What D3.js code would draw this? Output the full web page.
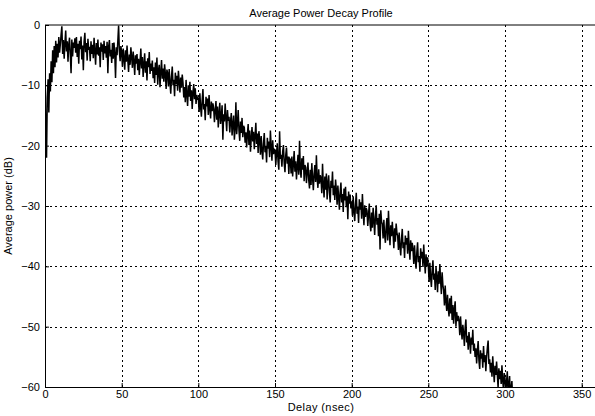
<!DOCTYPE html>
<html>
<head>
<meta charset="utf-8">
<script src="https://cdn.jsdelivr.net/npm/d3@7"></script>
<style>
  html, body { margin: 0; padding: 0; background: #fff; }
  svg { display: block; }
  text { font-family: Arial, "Liberation Sans", sans-serif; fill: #000; }
  .grid line { stroke: #000; stroke-width: 1; stroke-dasharray: 2,3; }
  .axis path, .axis line { stroke: #000; }
  .axis text { font-size: 11px; }
</style>
</head>
<body>
<div id="chart"></div>
<script>
// sample spacing of the measured profile (nsec)
const delayStep = 0.5;

// average power (dB), one value per 0.5 ns
const powerDb = [
  -7.0,-17.5,-22.0,-12.0,-9.0,-14.5,-8.0,-11.0,-6.0,-9.5,-4.2,-8.0,-3.5,-7.0,-2.6,-6.2,-3.1,-5.4,-2.0,-4.6,
  -3.2,-1.6,-0.2,-4.8,-2.5,-5.6,-3.0,-0.9,-4.4,-2.7,-6.1,-3.3,-2.1,-4.9,-8.0,-2.4,-5.2,-2.9,-3.8,-2.2,
  -4.6,-2.0,-5.3,-3.1,-6.4,-2.6,-4.0,-1.9,-5.7,-3.4,-7.5,-2.8,-1.3,-4.5,-3.0,-5.9,-2.3,-4.1,-3.6,-6.0,
  -2.7,-4.8,-3.3,-5.5,-2.1,-4.3,-6.6,-3.0,-4.9,-2.4,-5.1,-3.7,-7.0,-2.9,-4.4,-3.2,-5.8,-2.6,-4.7,-3.5,
  -5.4,-2.8,-8.0,-3.6,-2.5,-5.2,-4.1,-6.3,-3.0,-5.6,-2.9,-4.8,-8.8,-3.7,-5.0,-2.6,-0.1,-4.4,-6.0,-3.5,
  -4.6,-6.9,-3.9,-5.5,-7.4,-4.2,-6.1,-3.4,-5.8,-7.8,-4.9,-6.6,-3.7,-5.3,-7.1,-4.4,-6.0,-8.3,-5.0,-6.4,
  -4.8,-7.5,-5.6,-8.3,-6.1,-3.9,-7.2,-5.3,-8.6,-6.5,-4.7,-7.9,-6.0,-9.2,-5.5,-7.0,-4.5,-8.1,-6.4,-7.6,
  -5.9,-8.8,-7.0,-9.6,-6.2,-8.3,-5.4,-9.9,-7.5,-6.6,-10.3,-7.8,-5.8,-8.9,-7.2,-9.4,-6.5,-8.1,-10.6,-7.4,
  -8.0,-10.2,-7.3,-9.5,-11.4,-8.6,-6.9,-10.0,-9.1,-11.8,-7.9,-9.8,-8.4,-10.9,-7.6,-9.3,-11.2,-8.7,-10.4,-8.2,
  -9.6,-12.0,-10.3,-12.8,-9.1,-11.5,-13.4,-10.0,-11.9,-9.4,-12.6,-10.8,-13.9,-11.2,-9.8,-12.3,-10.5,-13.1,-11.6,-12.4,
  -12.0,-14.4,-11.3,-13.7,-15.2,-12.5,-10.6,-14.0,-13.1,-15.8,-11.9,-13.5,-12.2,-14.9,-11.6,-13.9,-15.5,-12.7,-14.3,-13.0,
  -13.8,-16.1,-14.2,-12.6,-15.7,-13.5,-17.0,-14.6,-12.9,-16.4,-15.1,-13.3,-19.0,-14.8,-16.0,-13.0,-15.4,-17.6,-14.1,-15.9,
  -15.2,-17.8,-16.0,-14.6,-18.3,-16.5,-15.0,-19.0,-17.2,-12.8,-18.1,-16.3,-14.1,-17.5,-19.2,-16.0,-17.9,-15.4,-18.6,-16.7,
  -17.0,-19.5,-17.8,-20.3,-18.1,-16.4,-19.9,-17.5,-21.0,-18.8,-16.9,-19.3,-17.7,-20.6,-18.4,-16.2,-19.7,-18.0,-21.2,-17.6,
  -19.0,-21.5,-18.4,-20.8,-22.3,-19.6,-17.9,-21.1,-20.0,-22.8,-18.7,-20.5,-19.3,-21.9,-17.5,-20.2,-22.5,-19.1,-21.4,-20.6,
  -20.7,-23.2,-21.3,-19.6,-22.6,-24.0,-17.6,-22.2,-21.5,-23.5,-21.0,-19.9,-22.9,-24.4,-21.6,-20.3,-23.0,-21.8,-24.7,-22.1,
  -22.3,-24.6,-21.8,-25.1,-23.0,-20.9,-24.3,-22.6,-25.6,-23.4,-21.5,-24.8,-19.2,-23.8,-25.3,-22.1,-24.0,-21.7,-25.9,-23.2,
  -23.6,-26.2,-24.4,-22.8,-25.7,-27.1,-24.0,-26.5,-22.9,-25.3,-27.4,-24.7,-23.2,-26.0,-21.6,-25.5,-27.0,-23.9,-26.3,-24.9,
  -25.4,-27.9,-23.0,-26.5,-28.6,-25.1,-27.3,-24.6,-28.9,-26.2,-24.9,-27.7,-29.4,-25.8,-27.0,-24.3,-28.2,-26.6,-29.0,-25.6,
  -27.3,-29.8,-26.6,-28.5,-30.6,-27.7,-26.1,-29.4,-28.0,-31.0,-27.1,-29.1,-26.8,-30.2,-28.4,-32.2,-27.6,-29.6,-28.1,-30.4,
  -29.2,-31.6,-28.4,-30.9,-32.5,-29.7,-27.8,-31.3,-30.1,-32.8,-28.9,-30.6,-29.4,-32.1,-28.0,-31.0,-33.2,-29.9,-31.8,-30.3,
  -30.8,-33.3,-31.5,-29.6,-32.9,-34.2,-31.1,-33.6,-30.3,-32.4,-34.8,-31.7,-29.9,-33.1,-32.0,-35.0,-31.3,-37.2,-30.7,-32.6,
  -33.0,-35.4,-32.3,-34.8,-36.1,-33.5,-32.0,-35.7,-30.8,-34.1,-36.5,-33.2,-35.0,-32.6,-34.6,-37.0,-33.7,-35.9,-32.9,-34.4,
  -35.0,-37.3,-34.4,-36.7,-38.2,-35.5,-33.8,-37.0,-36.0,-38.6,-34.9,-36.4,-35.3,-37.9,-34.1,-36.9,-38.9,-35.7,-37.5,-36.1,
  -37.2,-39.6,-36.5,-38.9,-40.4,-37.7,-36.0,-39.3,-38.3,-40.9,-37.0,-38.7,-37.6,-40.1,-36.4,-39.0,-41.2,-38.0,-40.0,-38.5,
  -40.0,-42.6,-39.4,-41.9,-43.4,-40.6,-39.0,-42.2,-41.2,-43.9,-40.1,-41.8,-44.3,-40.8,-42.9,-39.6,-42.4,-44.6,-41.0,-43.1,
  -44.0,-46.5,-43.2,-45.8,-47.4,-44.7,-46.9,-48.3,-45.3,-47.8,-44.9,-48.9,-46.4,-49.5,-47.1,-45.8,-50.0,-47.6,-49.1,-48.2,
  -49.0,-51.4,-48.3,-50.6,-52.1,-49.7,-51.0,-53.2,-50.2,-48.8,-52.6,-51.5,-53.8,-50.9,-52.3,-54.5,-51.8,-53.0,-50.5,-54.0,
  -52.8,-55.0,-53.6,-56.1,-54.0,-52.4,-55.6,-57.0,-53.9,-55.3,-54.4,-56.8,-53.2,-55.9,-54.7,-57.4,-55.1,-53.5,-52.3,-56.2,
  -55.4,-57.6,-56.0,-58.3,-54.9,-57.1,-59.2,-56.5,-58.0,-55.8,-57.9,-60.1,-56.9,-58.7,-57.3,-59.5,-56.4,-58.9,-60.4,-57.7,
  -58.6,-60.8,-59.2,-57.4,-61.0,-59.6,-58.2,-61.5,-60.2,-59.0,-62.0,-60.6
];

const xTicks = [0, 50, 100, 150, 200, 250, 300, 350];
const yTicks = [0, -10, -20, -30, -40, -50, -60];
const xDomain = [0, 360];
const yDomain = [-60, 0];

const width = 595, height = 416;
const margin = {top: 25, right: -2, bottom: 29, left: 45};

const svg = d3.select('#chart').append('svg')
    .attr('width', width)
    .attr('height', height);

const x = d3.scaleLinear().domain(xDomain).range([margin.left, width - margin.right]);
const y = d3.scaleLinear().domain(yDomain).range([height - margin.bottom, margin.top]);

// grid
const grid = svg.append('g').attr('class', 'grid');
grid.selectAll('line.v')
    .data(xTicks.filter(d => d > 0))
    .enter().append('line')
    .attr('class', 'v')
    .attr('x1', d => Math.round(x(d)) + 0.5).attr('x2', d => Math.round(x(d)) + 0.5)
    .attr('y1', y(0)).attr('y2', y(-60));
grid.selectAll('line.h')
    .data(yTicks.filter(d => d > -60 && d < 0))
    .enter().append('line')
    .attr('class', 'h')
    .attr('y1', d => Math.round(y(d)) + 0.5).attr('y2', d => Math.round(y(d)) + 0.5)
    .attr('x1', x(0)).attr('x2', x(360));

// clip to the axes box
svg.append('clipPath').attr('id', 'plotclip')
  .append('rect')
    .attr('x', x(0)).attr('y', y(0))
    .attr('width', x(360) - x(0)).attr('height', y(-60) - y(0));

const line = d3.line()
    .x((d, i) => x(i * delayStep))
    .y(d => y(d));

svg.append('path')
    .datum(powerDb)
    .attr('clip-path', 'url(#plotclip)')
    .attr('fill', 'none')
    .attr('stroke', '#000')
    .attr('stroke-width', 1.5)
    .attr('stroke-linejoin', 'miter')
    .attr('d', line);

// axes (matlab style: ticks pointing inward)
svg.append('g')
    .attr('class', 'axis')
    .attr('transform', `translate(0,${y(-60)})`)
    .call(d3.axisBottom(x).tickValues(xTicks).tickSizeInner(-4).tickSizeOuter(0).tickPadding(3));

svg.append('g')
    .attr('class', 'axis')
    .attr('transform', `translate(${x(0)},0)`)
    .call(d3.axisLeft(y).tickValues(yTicks).tickSizeInner(-4).tickSizeOuter(0).tickPadding(5));

// top border
svg.append('line')
    .attr('x1', x(0)).attr('x2', x(360))
    .attr('y1', y(0)).attr('y2', y(0))
    .attr('stroke', '#000');

// labels
svg.append('text')
    .attr('x', (x(0) + x(360)) / 2)
    .attr('y', 17)
    .attr('text-anchor', 'middle')
    .style('font-size', '11px')
    .text('Average Power Decay Profile');

svg.append('text')
    .attr('x', (x(0) + x(360)) / 2)
    .attr('y', 411)
    .attr('text-anchor', 'middle')
    .style('font-size', '11px')
    .style('letter-spacing', '0.4px')
    .text('Delay (nsec)');

svg.append('text')
    .attr('transform', `translate(12,${(y(0) + y(-60)) / 2}) rotate(-90)`)
    .attr('text-anchor', 'middle')
    .style('font-size', '11px')
    .text('Average power (dB)');
</script>
</body>
</html>
